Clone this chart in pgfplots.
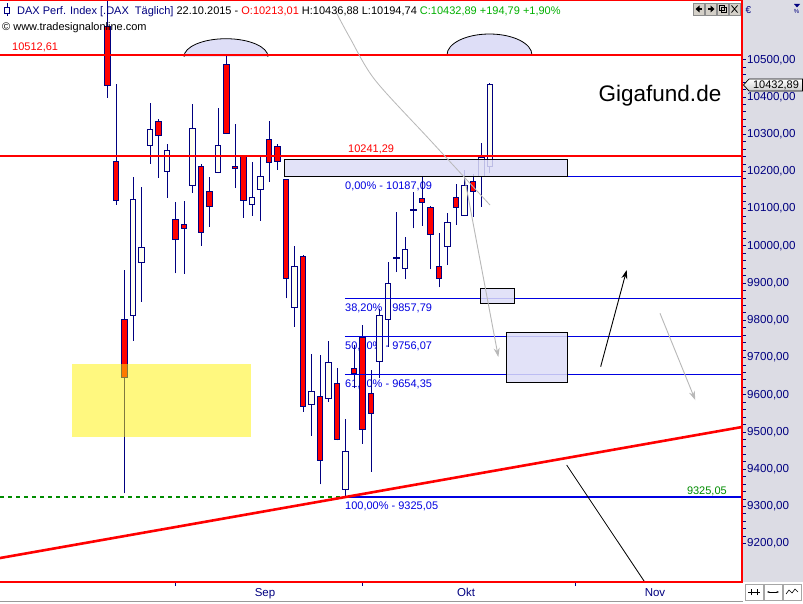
\documentclass[border=0pt]{standalone}
\usepackage{fontspec}
\setmainfont{Liberation Sans}
\usepackage{pgfplots}
\usepackage{pgfplotstable}
\pgfplotsset{compat=1.18}
\usetikzlibrary{arrows.meta}
\definecolor{navy}{RGB}{0,0,128}
\definecolor{fibblue}{RGB}{0,0,225}
\definecolor{lav}{RGB}{222,222,247}
\definecolor{panel}{RGB}{220,220,228}
\definecolor{candleup}{RGB}{255,255,240}
\definecolor{candledown}{RGB}{255,0,0}
\definecolor{tgreen}{RGB}{0,176,0}
\definecolor{dgreen}{RGB}{0,140,0}
\definecolor{btn}{RGB}{212,208,200}

\pgfplotstableread{
i O H L C
-8 10590 10700 10398 10430
-7 10227 10436 10110 10122
-6 9802 9935 9335 9647
-5 9813 10184 9745 10125
-4 9956 10157 9850 9996
-3 10270 10383 10220 10313
-2 10334 10340 10183 10297
-1 10200 10273 10129 10257
0 10071 10118 9926 10016
1 10058 10121 9925 10047
2 10161 10381 10143 10316
3 10214 10220 10000 10037
4 10146 10185 10051 10106
5 10197 10369 10195 10270
6 10488 10512.6 10300 10302
7 10214 10326 10155 10208
8 10239 10241 10076 10122
9 10111 10225 10081 10130
10 10152 10244 10067 10187
11 10286 10335 10172 10224
12 10266 10273 10205 10227
13 10177 10180 9859 9913
14 9835 9999 9783 9945
15 9972 9975 9554 9569
16 9574 9709 9490 9609
17 9596 9707 9359 9424
18 9590 9743 9581 9687
19 9631 9673 9477 9480
20 9344 9534 9325.05 9448
21 9670 9733 9617 9657
22 9753 9787 9468 9507
23 9603 9666 9393 9550
24 9690 9830 9644 9813
25 9803 9957 9729 9899
26 9966 10090 9929 9968
27 9940 10025 9910 9991
28 10095 10144 10047 10097
29 10128 10187.09 10054 10117
30 10104 10106 9937 10031
31 9944 10034 9888 9913
32 9998 10087 9948 10063
33 10129 10166 10056 10103
34 10082 10204 10080 10163
35 10173 10193 10078 10146
36 10186 10275 10105 10238
37 10213.01 10436.88 10194.74 10432.89
}\candles

\begin{document}
\begin{tikzpicture}[x=1pt,y=1pt]
\path[use as bounding box] (0,0) rectangle (803,603);
\fill[white] (0,0) rectangle (803,603);
\fill[panel] (743,21) rectangle (803,603);
\begin{axis}[
  at={(0pt,21pt)}, anchor=south west,
  scale only axis, width=742pt, height=582pt,
  xmin=-20.65, xmax=66.65, ymin=9096.8, ymax=10660.4,
  axis line style={draw=none},
  scaled y ticks=false,
  ytick={9200,9300,...,10500},
  minor y tick num=4,
  ytick pos=right, yticklabel pos=right,
  xtick={0,22,47}, xticklabels={},
  xtick pos=left,
  tick align=outside,
  major tick length=3.5pt, minor tick length=3.5pt,
  tick style={navy, line width=0.8pt},
  yticklabel={\pgfmathprintnumber[assume math mode=true,fixed,fixed zerofill,precision=2,use comma,1000 sep={}]{\tick}},
  yticklabel style={font=\fontsize{11.6}{13}\selectfont, text=navy, anchor=west, inner sep=1.5pt},
  extra x ticks={10.53,34.18,56.41},
  extra x tick labels={Sep,Okt,Nov},
  extra x tick style={major tick length=0pt, xticklabel style={font=\fontsize{11.5}{13}\selectfont, text=navy, yshift=-3pt}},
  clip=true,
]
% arcs
\draw[black, line width=0.8pt, fill=lav] (axis cs:5.94,10508) ++(-42pt,0pt) arc[start angle=180, end angle=0, x radius=42pt, y radius=18pt];
\draw[black, line width=0.8pt, fill=lav] (axis cs:36.94,10512.6) ++(-42.5pt,0pt) arc[start angle=180, end angle=0, x radius=42.5pt, y radius=21pt];
% labels
\node[anchor=west, inner sep=0, red, font=\fontsize{11}{13}\selectfont] at (axis cs:-19.24,10534.1) {10512,61};
\node[anchor=west, inner sep=0, red, font=\fontsize{11}{13}\selectfont] at (axis cs:20.29,10260.1) {10241,29};
\node[anchor=west, inner sep=0, fibblue, font=\fontsize{11}{13}\selectfont] at (axis cs:19.94,10160.7) {0,00\% - 10187,09};
\node[anchor=west, inner sep=0, fibblue, font=\fontsize{11}{13}\selectfont] at (axis cs:19.94,9832.9) {38,20\% - 9857,79};
\node[anchor=west, inner sep=0, fibblue, font=\fontsize{11}{13}\selectfont] at (axis cs:19.94,9730.8) {50,00\% - 9756,07};
\node[anchor=west, inner sep=0, fibblue, font=\fontsize{11}{13}\selectfont] at (axis cs:19.94,9628.7) {61,80\% - 9654,35};
\node[anchor=west, inner sep=0, fibblue, font=\fontsize{11}{13}\selectfont] at (axis cs:19.94,9301.0) {100,00\% - 9325,05};
\node[anchor=east, inner sep=0, dgreen, font=\fontsize{11}{13}\selectfont] at (axis cs:64.88,9341.2) {9325,05};
% candles
\pgfplotsforeachungrouped \r in {0,...,45}{%
  \pgfplotstablegetelem{\r}{i}\of\candles \let\ci\pgfplotsretval
  \pgfplotstablegetelem{\r}{O}\of\candles \let\co\pgfplotsretval
  \pgfplotstablegetelem{\r}{H}\of\candles \let\ch\pgfplotsretval
  \pgfplotstablegetelem{\r}{L}\of\candles \let\cl\pgfplotsretval
  \pgfplotstablegetelem{\r}{C}\of\candles \let\cc\pgfplotsretval
  \pgfmathtruncatemacro\up{\cc>=\co?1:0}%
  \ifnum\up=1 \def\cf{candleup}\else\def\cf{candledown}\fi
  \edef\temp{\noexpand\draw[navy, line width=1pt] (axis cs:\ci,\cl) -- (axis cs:\ci,\ch);
    \noexpand\draw[navy, line width=1pt, fill=\cf] ([xshift=-2.9pt]axis cs:\ci,\co) rectangle ([xshift=2.9pt]axis cs:\ci,\cc);}%
  \temp
}
% horizontal lines
\addplot[red, line width=1.2pt] coordinates {(-20.65,10512.61) (66.65,10512.61)};
\addplot[red, line width=1.2pt] coordinates {(-20.65,10241.29) (66.65,10241.29)};
\addplot[fibblue, line width=1.1pt] coordinates {(19.94,10187.09) (66.65,10187.09)};
\addplot[fibblue, line width=1.1pt] coordinates {(19.94,9857.79) (66.65,9857.79)};
\addplot[fibblue, line width=1.1pt] coordinates {(19.94,9756.07) (66.65,9756.07)};
\addplot[fibblue, line width=1.1pt] coordinates {(19.94,9654.35) (66.65,9654.35)};
\addplot[fibblue, line width=1.1pt] coordinates {(19.94,9325.05) (66.65,9325.05)};
\addplot[dgreen, line width=1.1pt, dash pattern=on 4pt off 4pt] coordinates {(-20.65,9325.05) (19.94,9325.05)};
% rectangles
\draw[black, line width=1pt, fill=lav, fill opacity=0.85] (axis cs:12.88,10184.9) rectangle (axis cs:46.06,10233.2);
\draw[black, line width=1pt, fill=lav, fill opacity=0.85] (axis cs:35.94,9843.7) rectangle (axis cs:39.94,9886.6);
\draw[black, line width=1pt, fill=lav, fill opacity=0.85] (axis cs:39.0,9634.1) rectangle (axis cs:46.06,9768.4);
\fill[yellow, fill opacity=0.5] (axis cs:-12.18,9486.3) rectangle (axis cs:8.88,9682.5);
% trend and arrows
\addplot[red, line width=2.6pt] coordinates {(-20.65,9161.2) (66.65,9513.2)};
\addplot[black, line width=0.8pt] coordinates {(46.02,9411.1) (55.4,9090)};
\addplot[black, line width=0.9pt, -{Stealth[length=9pt,width=6pt]}] coordinates {(50.02,9675.2) (53.08,9935.0)};
\addplot[black!28, line width=0.9pt, -{Stealth[length=9pt,width=6pt]}] coordinates {(57.0,9818.7) (61.15,9585.7)};
\addplot[black!28, line width=0.9pt, -{Stealth[length=9pt,width=6pt]}] coordinates {(33.98,10185.7) (37.98,9701.3)};
\addplot[black!28, line width=0.8pt, smooth] coordinates {(18.88,10628.2) (20.53,10558.3) (23.47,10445.5) (29.94,10284.3) (37.0,10109.6)};
\node[font=\fontsize{22.5}{24}\selectfont, inner sep=0] at (axis cs:57.0,10402.5) {Gigafund.de};
\end{axis}
% frame
\draw[red, line width=1.3pt] (0,602.4) -- (742,602.4);
\draw[red, line width=1.3pt] (742,603) -- (742,21) -- (0,21);
\draw[black!40, line width=1.2pt] (0,1.2) -- (743,1.2);
% title
\node[anchor=base west, inner sep=0, font=\fontsize{11}{13}\selectfont] at (17,588) {\textcolor{navy}{DAX Perf. Index [.DAX\ \ Täglich]} 22.10.2015 - \textcolor{red}{O:10213,01} H:10436,88 L:10194,74 \textcolor{tgreen}{C:10432,89 +194,79 +1,90\%}};
\node[anchor=base west, inner sep=0, font=\fontsize{11}{13}\selectfont] at (2,572) {© www.tradesignalonline.com};
\draw[navy, line width=0.9pt] (7,599.5) -- (7,586.5);
\draw[navy, line width=0.9pt, fill=white] (4.5,596) rectangle (9.5,590);
% buttons top right
\foreach \bx in {693,705,717,729}{\draw[black!45, fill=btn, line width=0.5pt] (\bx,588) rectangle (\bx+11,600);}
\fill[black] (695.5,594) -- (699.5,597.5) -- (699.5,590.5) -- cycle; \fill[black] (699,593) rectangle (702,595);
\fill[black] (714.5,594) -- (710.5,597.5) -- (710.5,590.5) -- cycle; \fill[black] (708,593) rectangle (711,595);
\draw[black, line width=0.8pt] (721,590.5) rectangle (726,595.5); \draw[black, line width=0.8pt] (719,592.5) rectangle (724,597.5);
\draw[black, line width=0.8pt] (731.5,590.5) -- (737.5,597.5) (731.5,597.5) -- (737.5,590.5);
% panel top icons
\node[anchor=base west, inner sep=0, navy, font=\fontsize{10}{12}\selectfont] at (745.5,589) {€};
\fill[navy] (794,599) -- (800,599) -- (797,595.5) -- cycle;
\node[inner sep=0, navy, font=\fontsize{6}{7}\selectfont] at (796.5,591.5) {\%};
% price marker
\draw[black, line width=0.7pt, top color=white, bottom color=black!20] (743.5,518) -- (749,524) -- (802.5,524) -- (802.5,512) -- (749,512) -- cycle;
\node[inner sep=0, font=\fontsize{11}{13}\selectfont] at (776,518) {10432,89};
% bottom buttons
\foreach \bx in {745,764,783}{\draw[black!35, fill=white, line width=0.5pt] (\bx,3) rectangle (\bx+18,19);}
\draw[black, line width=0.6pt] (748,11) -- (760,11); \draw[black, line width=0.6pt] (751,8) -- (751,14) (757,8) -- (757,14);
\draw[black, line width=0.6pt, {Stealth[length=2.5pt]}-{Stealth[length=2.5pt]}] (767,11) -- (779,11);
\draw[black, line width=0.6pt] (786,9) -- (789,13) -- (792,10) -- (795,14) -- (798,11);
\end{tikzpicture}
\end{document}
